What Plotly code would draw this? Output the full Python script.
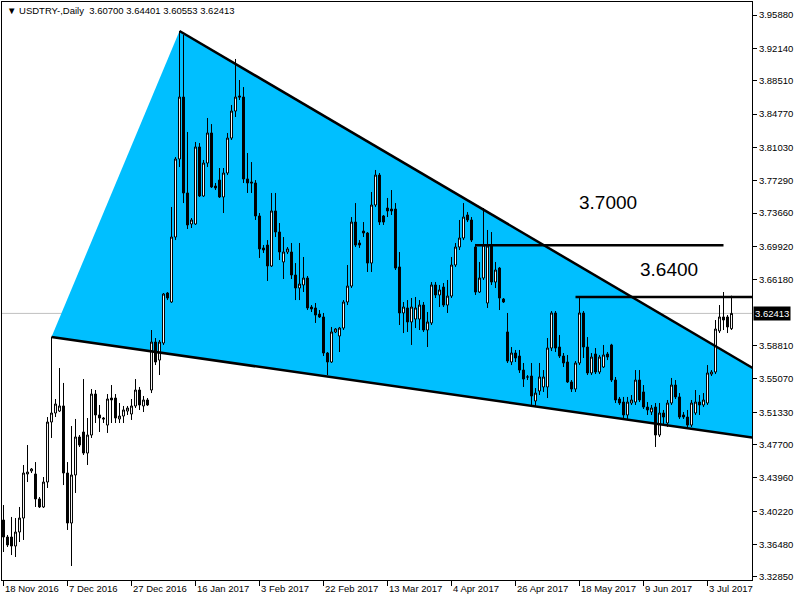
import plotly.graph_objects as go

# ---- data (USDTRY daily, bar index 0 = 18 Nov 2016) ----
opens = [3.3924,3.3733,3.3733,3.3632,3.3789,3.3946,3.4440,3.4474,3.4440,3.4160,
         3.4070,3.4350,3.5023,3.5124,3.5146,3.5203,3.4451,3.3890,3.4429,3.4855,
         3.4911,3.4675,3.4877,3.5337,3.5102,3.5068,3.4989,3.5292,3.5292,3.5057,
         3.5090,3.5146,3.5113,3.5203,3.5382,3.5203,3.5270,3.5382,3.5920,3.5718,
         3.5909,3.6470,3.6369,3.7098,3.7973,3.8668,3.7592,3.7244,3.7244,3.8108,
         3.7558,3.7928,3.8265,3.7670,3.7737,3.7547,3.7816,3.8208,3.8511,3.8680,
         3.8668,3.7749,3.7715,3.7704,3.7334,3.6975,3.7008,3.6773,3.7390,3.7154,
         3.6818,3.6930,3.6930,3.6672,3.6526,3.6560,3.6638,3.6313,3.6302,3.6234,
         3.6201,3.5797,3.5696,3.6033,3.5988,3.6077,3.6369,3.6548,3.7266,3.7031,
         3.7165,3.7143,3.6806,3.7457,3.7793,3.7334,3.7423,3.7412,3.7412,3.6762,
         3.6246,3.6302,3.6145,3.6178,3.6178,3.6335,3.6055,3.6134,3.6560,3.6448,
         3.6537,3.6335,3.6436,3.6784,3.6986,3.7087,3.7345,3.7289,3.6986,3.6481,
         3.6638,3.6358,3.6997,3.6593,3.6750,3.6403,3.6033,3.5696,3.5797,3.5763,
         3.5606,3.5528,3.5539,3.5259,3.5371,3.5416,3.5416,3.5853,3.6246,3.5864,
         3.5763,3.5696,3.5472,3.5393,3.5685,3.6246,3.5864,3.5573,3.5786,3.5584,
         3.5640,3.5786,3.5887,3.5494,3.5281,3.5247,3.5102,3.5236,3.5247,3.5494,
         3.5360,3.5191,3.5135,3.5191,3.4877,3.5124,3.5012,3.5236,3.5438,3.5304,
         3.5102,3.5079,3.4989,3.5124,3.5247,3.5214,3.5236,3.5561,3.5584,3.6044,
         3.6201,3.6201,3.60700]
highs = [3.4092,3.3756,3.3958,3.3946,3.4070,3.4541,3.4765,3.4507,3.4574,3.4182,
         3.4406,3.5079,3.5976,3.5281,3.5629,3.5461,3.4574,3.4978,3.5057,3.4877,
         3.5505,3.5068,3.5393,3.5382,3.5214,3.5079,3.5337,3.5438,3.5337,3.5236,
         3.5203,3.5203,3.5281,3.5505,3.5416,3.5315,3.5292,3.6055,3.5965,3.5943,
         3.6470,3.6481,3.7435,3.7995,3.9409,3.9364,3.8276,3.7311,3.8164,3.8152,
         3.7962,3.8433,3.8365,3.7704,3.7872,3.7872,3.8265,3.8579,3.9095,3.8859,
         3.8780,3.8040,3.7939,3.7737,3.7367,3.7008,3.7064,3.7592,3.7592,3.7255,
         3.7098,3.6986,3.7031,3.6806,3.7031,3.6874,3.6661,3.6335,3.6358,3.6279,
         3.6246,3.5808,3.6089,3.6077,3.6089,3.6391,3.6784,3.7322,3.7479,3.7064,
         3.7266,3.7154,3.7603,3.7850,3.7816,3.7345,3.7536,3.7625,3.7479,3.6930,
         3.6369,3.6391,3.6414,3.6425,3.6391,3.6369,3.6257,3.6593,3.6593,3.6560,
         3.6582,3.6616,3.6874,3.7031,3.7289,3.7479,3.7378,3.7322,3.7020,3.6818,
         3.7423,3.7177,3.7154,3.6818,3.6762,3.6414,3.6246,3.5864,3.5831,3.5831,
         3.5685,3.5550,3.5685,3.5404,3.5685,3.5606,3.5965,3.6268,3.6268,3.5999,
         3.5797,3.5775,3.5494,3.5707,3.6425,3.6268,3.5976,3.5797,3.5853,3.5775,
         3.5887,3.5808,3.5900,3.5528,3.5304,3.5304,3.5304,3.5326,3.5606,3.5606,
         3.5438,3.5247,3.5214,3.5236,3.5236,3.5158,3.5270,3.5517,3.5494,3.5348,
         3.5135,3.5158,3.5270,3.5382,3.5326,3.5348,3.5662,3.5606,3.6167,3.6335,
         3.6481,3.6223,3.64401]
lows = [3.3565,3.3621,3.3531,3.3509,3.3677,3.3700,3.4350,3.4451,3.4070,3.4059,
        3.4059,3.4283,3.4844,3.5079,3.5135,3.4316,3.3812,3.3408,3.4227,3.4743,
        3.4653,3.4541,3.4844,3.5012,3.4911,3.5012,3.4900,3.5012,3.5012,3.5012,
        3.5012,3.5102,3.5046,3.5180,3.5158,3.5135,3.5203,3.5348,3.5662,3.5550,
        3.5887,3.6391,3.6358,3.7064,3.7883,3.7479,3.7188,3.7199,3.7233,3.7547,
        3.7547,3.7883,3.7648,3.7625,3.7536,3.7367,3.7793,3.8186,3.8444,3.8635,
        3.7704,3.7592,3.7592,3.7289,3.6863,3.6919,3.6605,3.6762,3.7098,3.6840,
        3.6627,3.6907,3.6627,3.6391,3.6391,3.6481,3.6279,3.6257,3.6134,3.6190,
        3.5763,3.5550,3.5685,3.6021,3.5808,3.6055,3.6335,3.6526,3.6986,3.6975,
        3.7098,3.6706,3.6706,3.7435,3.7233,3.7233,3.7322,3.7345,3.6728,3.6111,
        3.6021,3.6033,3.5887,3.6077,3.6055,3.6033,3.5864,3.6111,3.6414,3.6313,
        3.6313,3.6246,3.6414,3.6762,3.6952,3.7064,3.7266,3.7042,3.6448,3.6470,
        3.6616,3.6302,3.6560,3.6526,3.6279,3.6358,3.5685,3.5662,3.5696,3.5573,
        3.5416,3.5494,3.5214,3.5191,3.5326,3.5360,3.5292,3.5819,3.5808,3.5741,
        3.5640,3.5461,3.5360,3.5360,3.5662,3.5741,3.5550,3.5550,3.5561,3.5561,
        3.5629,3.5718,3.5472,3.5236,3.5214,3.5046,3.5046,3.5214,3.5214,3.5247,
        3.5169,3.5102,3.5102,3.4743,3.4855,3.4989,3.4967,3.5214,3.5281,3.5057,
        3.5057,3.4956,3.4967,3.5102,3.5102,3.5191,3.5214,3.5539,3.5561,3.6021,
        3.6055,3.6021,3.60553]
closes = [3.3733,3.3644,3.3632,3.3789,3.3946,3.4451,3.4462,3.4496,3.4160,3.4070,
          3.4350,3.5023,3.5124,3.5225,3.5203,3.4451,3.3890,3.4429,3.4855,3.4765,
          3.4675,3.4877,3.5337,3.5102,3.5068,3.5057,3.5281,3.5270,3.5068,3.5090,
          3.5158,3.5180,3.5203,3.5382,3.5214,3.5270,3.5214,3.5920,3.5696,3.5920,
          3.6459,3.6414,3.7098,3.7973,3.8668,3.7592,3.7233,3.7289,3.8108,3.7558,
          3.7928,3.8265,3.7659,3.7648,3.7547,3.7816,3.8208,3.8511,3.8668,3.8668,
          3.7749,3.7704,3.7704,3.7334,3.6964,3.6952,3.6773,3.7390,3.7154,3.6930,
          3.6930,3.6964,3.6672,3.6526,3.6571,3.6638,3.6302,3.6291,3.6223,3.6201,
          3.5797,3.5696,3.6033,3.6066,3.6077,3.6369,3.6548,3.7266,3.7008,3.7008,
          3.7143,3.6806,3.7457,3.7793,3.7266,3.7266,3.7390,3.7390,3.6750,3.6246,
          3.6313,3.6145,3.6313,3.6302,3.6335,3.6055,3.6145,3.6560,3.6448,3.6504,
          3.6335,3.6436,3.6784,3.6986,3.7087,3.7322,3.7289,3.7064,3.6481,3.6638,
          3.7008,3.6997,3.6593,3.6728,3.6414,3.6369,3.5707,3.5797,3.5741,3.5606,
          3.5505,3.5528,3.5315,3.5348,3.5528,3.5528,3.5853,3.6246,3.5853,3.5763,
          3.5685,3.5472,3.5393,3.5685,3.6246,3.5864,3.5573,3.5752,3.5584,3.5752,
          3.5775,3.5752,3.5494,3.5270,3.5236,3.5102,3.5247,3.5270,3.5494,3.5270,
          3.5191,3.5158,3.5180,3.4877,3.5124,3.5079,3.5236,3.5438,3.5304,3.5079,
          3.5079,3.4989,3.5236,3.5247,3.5214,3.5270,3.5573,3.5584,3.6066,3.6201,
          3.6167,3.6089,3.62413]
bars = list(range(len(opens)))

date_labels = ["18 Nov 2016", "7 Dec 2016", "27 Dec 2016", "16 Jan 2017", "3 Feb 2017",
               "22 Feb 2017", "13 Mar 2017", "4 Apr 2017", "26 Apr 2017", "18 May 2017",
               "9 Jun 2017", "3 Jul 2017"]
date_label_bars = [0, 16, 32, 48, 64, 80, 96, 112, 128, 144, 160, 176]

price_ticks = [3.95880, 3.92140, 3.88510, 3.84770, 3.81030, 3.77290, 3.73660, 3.69920,
               3.66180, 3.58810, 3.55070, 3.51330, 3.47700, 3.43960, 3.40220, 3.36480, 3.32850]
price_tick_text = ["%.5f" % v for v in price_ticks]

# wedge (triangle object): three anchor points (bar, price)
tri_bars = [12, 44, 226.4]
tri_prices = [3.5976, 3.9409, 3.4597]

# horizontal levels
level_names = ["3.7000", "3.6400"]
level_prices = [3.7005, 3.6425]
level_start = [118, 143]
level_end = [180, 187.5]
level_label_bar = [151, 166.4]
level_label_price = [3.7490, 3.6730]

symbol_text = "USDTRY-,Daily  3.60700 3.64401 3.60553 3.62413"
last_price = closes[-1]

FONT = "Liberation Sans, Arial, sans-serif"

fig = go.Figure()

# triangle fill (below the candles)
tri_path = "M {},{} L {},{} L {},{} Z".format(tri_bars[0], tri_prices[0],
                                              tri_bars[1], tri_prices[1],
                                              tri_bars[2], tri_prices[2])
fig.add_shape(type="path", path=tri_path, xref="x", yref="y", layer="below",
              fillcolor="#00BFFF", line=dict(width=0))
# current price line
fig.add_shape(type="line", xref="paper", yref="y", x0=0, x1=1, y0=last_price, y1=last_price,
              layer="below", line=dict(color="#C0C0C0", width=1))

# candles
fig.add_trace(go.Candlestick(
    x=bars, open=opens, high=highs, low=lows, close=closes,
    increasing=dict(line=dict(color="black", width=1), fillcolor="white"),
    decreasing=dict(line=dict(color="black", width=1), fillcolor="black"),
    whiskerwidth=0, hoverinfo="skip", showlegend=False))
# triangle edges (upper and lower trend lines)
fig.add_trace(go.Scatter(x=[tri_bars[1], tri_bars[2]], y=[tri_prices[1], tri_prices[2]],
                         mode="lines", line=dict(color="black", width=2.5),
                         hoverinfo="skip", showlegend=False))
fig.add_trace(go.Scatter(x=[tri_bars[0], tri_bars[2]], y=[tri_prices[0], tri_prices[2]],
                         mode="lines", line=dict(color="black", width=2.5),
                         hoverinfo="skip", showlegend=False))
# horizontal level lines + labels
for name, p, s, e, lb, lp in zip(level_names, level_prices, level_start, level_end,
                                 level_label_bar, level_label_price):
    fig.add_trace(go.Scatter(x=[s, e], y=[p, p], mode="lines",
                             line=dict(color="black", width=2.5),
                             hoverinfo="skip", showlegend=False))
    fig.add_annotation(x=lb, y=lp, text=name, showarrow=False,
                       font=dict(family=FONT, size=19, color="black"),
                       xanchor="center", yanchor="middle")

# date labels (left-aligned to tick, MT4 style)
for lab, b in zip(date_labels, date_label_bars):
    fig.add_annotation(x=b, y=0, xref="x", yref="paper", text=lab, showarrow=False,
                       xanchor="left", yanchor="top", yshift=-1, xshift=-1,
                       font=dict(family=FONT, size=9.5, color="black"))

# symbol header
fig.add_annotation(x=0.004, y=0.985, xref="paper", yref="paper",
                   text="\u25BC " + symbol_text, showarrow=False,
                   xanchor="left", yanchor="middle",
                   font=dict(family=FONT, size=9.5, color="black"))

# last price tag on the axis
fig.add_annotation(x=1, y=last_price, xref="paper", yref="y", text="%.5f" % last_price,
                   showarrow=False, xanchor="left", yanchor="middle", xshift=1,
                   bgcolor="black", borderpad=1,
                   font=dict(family=FONT, size=9.5, color="white"))

fig.update_layout(
    width=800, height=600,
    margin=dict(l=2, r=48, t=2, b=20),
    paper_bgcolor="white", plot_bgcolor="white",
    showlegend=False, hovermode=False,
    xaxis=dict(range=[-0.375, 187.125], rangeslider=dict(visible=False),
               showgrid=False, zeroline=False, tickmode="array",
               tickvals=date_label_bars, ticktext=[""] * len(date_label_bars),
               ticks="outside", ticklen=5, tickcolor="black", tickwidth=1,
               showline=True, linecolor="black", linewidth=1, mirror=True),
    yaxis=dict(range=[3.3251, 3.9734], side="right", showgrid=False, zeroline=False,
               tickmode="array", tickvals=price_ticks, ticktext=price_tick_text,
               ticks="outside", ticklen=4, tickcolor="black", tickwidth=1,
               tickfont=dict(family=FONT, size=9.5, color="black"),
               showline=True, linecolor="black", linewidth=1, mirror=True),
)

fig.write_html("out.html", config={"displayModeBar": False},
               post_script="document.body.style.margin='0';document.body.style.overflow='hidden';")
